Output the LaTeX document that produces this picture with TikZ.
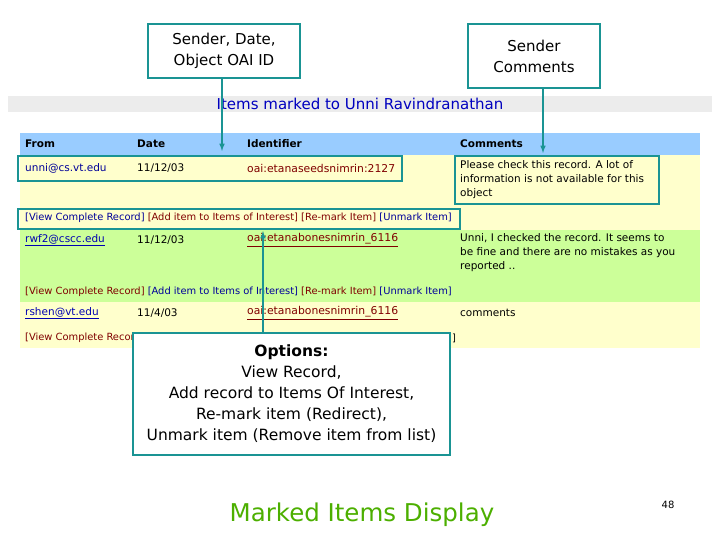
\documentclass[tikz,border=0pt]{standalone}
\usepackage{fontspec}
\setmainfont{DejaVu Sans}
\begin{document}
\begin{tikzpicture}[x=1pt,y=-1pt,
  callout/.style={draw=tl,line width=2.5pt,fill=white,align=center,font=\fontsize{15}{21}\selectfont},
  hl/.style={draw=tl,line width=2.5pt},
  arr/.style={tl,line width=1.5pt,-latex},
  cell/.style={anchor=west,font=\fontsize{10.5}{13}\selectfont,inner sep=0pt},
  lnk/.style={cell,text=red!50!black,font=\fontsize{10.8}{12}\selectfont},
  blnk/.style={cell,text=blue!70!black},
  act/.style={cell,font=\fontsize{9.9}{12}\selectfont},
  cmt/.style={cell,anchor=north west,align=left,font=\fontsize{10.5}{14}\selectfont}]
\definecolor{hdr}{HTML}{99CCFF}\definecolor{yel}{HTML}{FFFFCC}\definecolor{grn}{HTML}{CCFF99}
\definecolor{tl}{HTML}{1A9494}
\useasboundingbox (0,0) rectangle (720,540);
\fill[gray!15] (8,96) rectangle (712,112);
\node[text=blue!75!black,font=\fontsize{15}{17}\selectfont] (title) at (360,104) {Items marked to Unni Ravindranathan};
\fill[hdr] (20,133) rectangle (700,155);
\fill[yel] (20,155) rectangle (700,230);
\fill[grn] (20,230) rectangle (700,302);
\fill[yel] (20,302) rectangle (700,348);
\foreach \t/\x in {From/25,Date/137,Identifier/247,Comments/460}
  \node[cell,font=\fontsize{10.5}{12}\selectfont\bfseries] at (\x,144) {\t};
\node[cell,text=blue!60!black] at (25,168) {unni@cs.vt.edu};
\node[cell] at (137,168) {11/12/03};
\node[lnk] at (247,168) {oai:etanaseedsnimrin:2127};
\node[cmt] at (460,160) {Please check this record. A lot of\\information is not available for this\\object};
\node[act,text=blue!60!black] at (25,218) {[View Complete Record]\ \textcolor{red!50!black}{[Add item to Items of Interest]}\ \textcolor{red!50!black}{[Re-mark Item]}\ [Unmark Item]};
\node[blnk] at (25,240) {\underline{rwf2@cscc.edu}};
\node[cell] at (137,240) {11/12/03};
\node[lnk] at (247,240) {\underline{oai:etanabonesnimrin\_6116}};
\node[cmt] at (460,233) {Unni, I checked the record. It seems to\\be fine and there are no mistakes as you\\reported ..};
\node[act,text=red!50!black] at (25,292) {[View Complete Record]\ \textcolor{blue!60!black}{[Add item to Items of Interest]}\ [Re-mark Item]\ \textcolor{blue!60!black}{[Unmark Item]}};
\node[blnk] at (25,313) {\underline{rshen@vt.edu}};
\node[cell] at (137,313) {11/4/03};
\node[lnk] at (247,313) {\underline{oai:etanabonesnimrin\_6116}};
\node[cell] at (460,313) {comments};
\node[act,text=red!50!black] at (25,338) {[View Complete Record]};
\node[act] at (452,338) {]};
\draw[hl] (18,156) rectangle (402,181);
\draw[hl] (455,156) rectangle (659,204);
\draw[hl] (18,209) rectangle (460,229);
\node[callout,minimum width=152pt,minimum height=54pt] (b1) at (224,51) {Sender, Date,\\Object OAI ID};
\node[callout,minimum width=132pt,minimum height=64pt] (b2) at (534,56) {Sender\\Comments};
\node[callout,minimum width=317pt,minimum height=122pt,inner sep=2pt,font=\fontsize{15.5}{21}\selectfont,text depth=2pt] (b3) at (291.5,394) {\textbf{Options:}\\View Record,\\Add record to Items Of Interest,\\Re-mark item (Redirect),\\Unmark item (Remove item from list)};
\coordinate (e1) at (222,151);
\coordinate (e2) at (543,153);
\coordinate (e3) at (263,231);
\draw[arr] (b1.south -| e1) -- (e1);
\draw[arr] (b2.south -| e2) -- (e2);
\draw[arr] (b3.north -| e3) -- (e3);
\node[text=green!55!black!70!yellow,font=\fontsize{24.5}{28}\selectfont] (foot) at (362,515) {Marked Items Display};
\node[font=\fontsize{10}{12}\selectfont] (num) at (668,505) {48};
\end{tikzpicture}
\end{document}
